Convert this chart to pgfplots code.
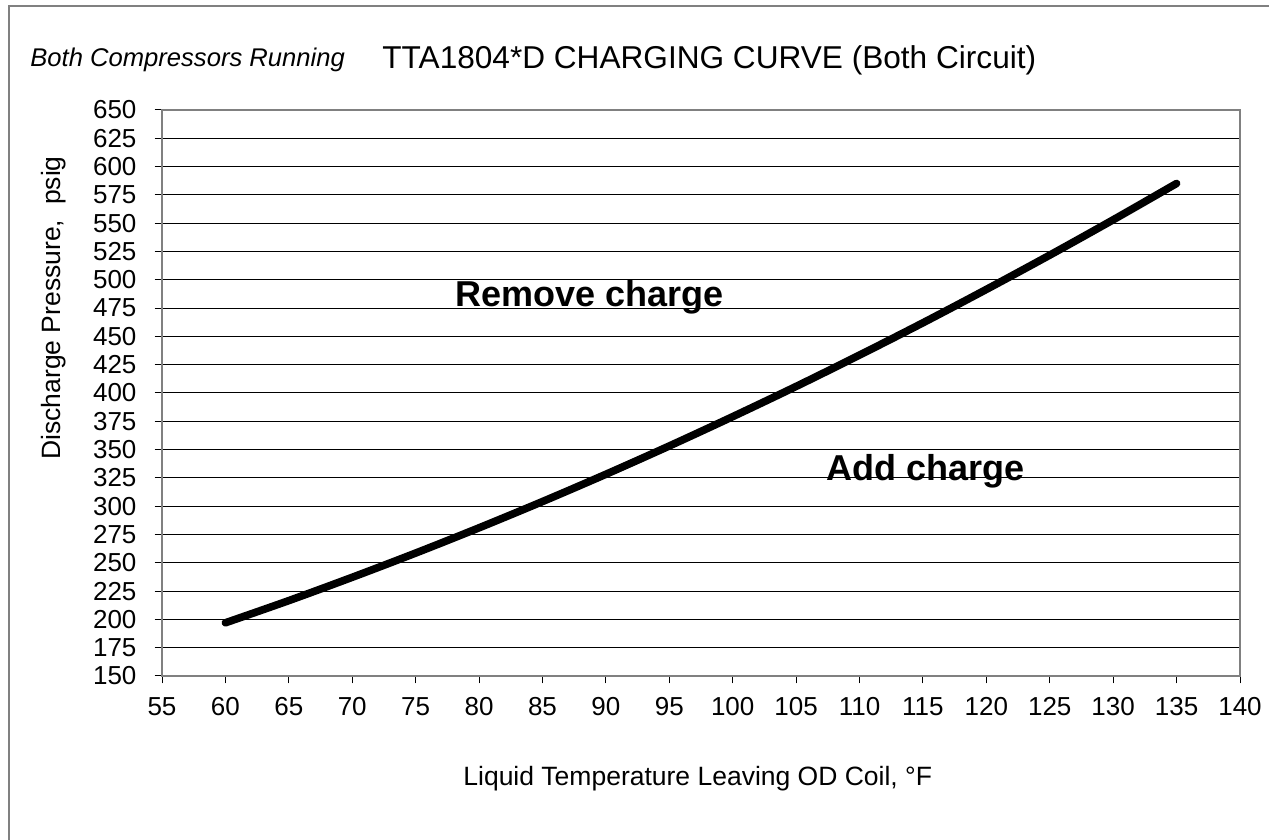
\documentclass[border=0pt]{standalone}
\usepackage{fontspec}
\setmainfont{Liberation Sans}
\usepackage{pgfplots}
\pgfplotsset{compat=1.18}
\begin{document}
\begin{tikzpicture}
\path[use as bounding box] (0pt,0pt) rectangle (634.5pt,420pt);
\draw[gray, line width=1.2pt] (4.5pt,0pt) -- (4.5pt,417pt) -- (634.5pt,417pt);
\node[anchor=base west, inner sep=0pt, font=\fontsize{12.8}{14}\selectfont\itshape] at (15pt,386.5pt) {Both Compressors Running};
\node[anchor=base west, inner sep=0pt, font=\fontsize{15.8}{18}\selectfont] at (191pt,385.75pt) {TTA1804*D CHARGING CURVE (Both Circuit)};
\node[anchor=base west, inner sep=0pt, font=\fontsize{13.25}{15}\selectfont] at (231.5pt,27pt) {Liquid Temperature Leaving OD Coil, °F};
\node[anchor=base, inner sep=0pt, rotate=90, font=\fontsize{13.25}{15}\selectfont] at (30pt,266pt) {Discharge Pressure,\ \ psig};
\begin{axis}[
  at={(81pt,82pt)}, anchor=south west,
  scale only axis, width=539pt, height=283pt,
  xmin=55, xmax=140, ymin=150, ymax=650,
  xtick={55,60,...,140}, ytick={150,175,...,650},
  xtick pos=bottom, ytick pos=left,
  tick align=outside, major tick length=3.75pt,
  tick style={black, line width=0.5pt},
  ymajorgrids, grid style={black, line width=0.5pt},
  axis line style={draw=gray, line width=1pt},
  /pgf/number format/assume math mode=true,
  tick label style={font=\fontsize{13}{15}\selectfont},
  xticklabel style={yshift=-3.5pt},
  yticklabel style={xshift=-5.5pt},
  clip=false,
]
\addplot[black, line width=3.8pt, line cap=round, line join=round, smooth] coordinates {
(60,197) (65,216.6) (70,237.2) (75,258.6) (80,280.9) (85,304.1) (90,328.2) (95,353.2)
(100,379.1) (105,405.8) (110,433.5) (115,462) (120,491.5) (125,521.8) (130,553) (135,585.1)
};
\node[anchor=base west, inner sep=0pt, font=\fontsize{18}{20}\selectfont\bfseries] at (axis cs:78.1,476.2) {Remove charge};
\node[anchor=base west, inner sep=0pt, font=\fontsize{18}{20}\selectfont\bfseries] at (axis cs:107.4,322.3) {Add charge};
\end{axis}
\end{tikzpicture}
\end{document}
